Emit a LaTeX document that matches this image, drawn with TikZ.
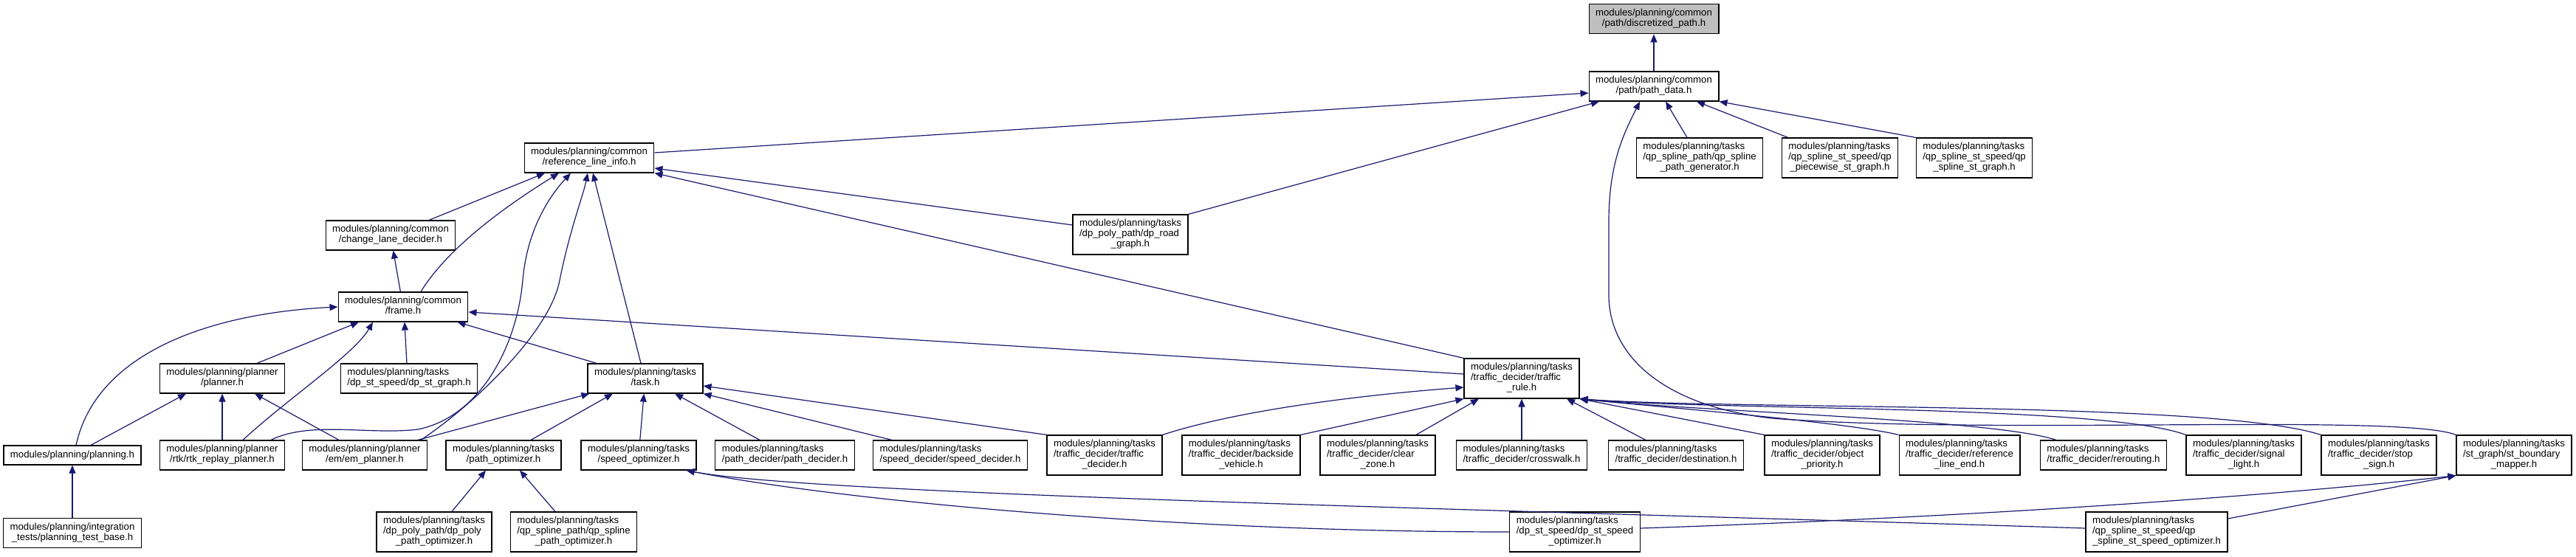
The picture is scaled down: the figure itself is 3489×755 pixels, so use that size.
\documentclass[tikz,border=0pt]{standalone}
\usepackage{fontspec}
\setmainfont{Liberation Sans}
\usepackage{xcolor}
\usetikzlibrary{arrows.meta, positioning}
\definecolor{cEdge}{RGB}{25,25,112}
\definecolor{cRoot}{RGB}{191,191,191}
\newcommand{\twoln}[2]{\begin{tabular}{@{}l@{}}#1\\\multicolumn{1}{@{}c@{}}{#2}\end{tabular}}
\newcommand{\threeln}[3]{\begin{tabular}{@{}l@{}}#1\\#2\\\multicolumn{1}{@{}c@{}}{#3}\end{tabular}}
\tikzset{
    header/.style    ={rectangle, draw=black, line width=1.2pt, fill=white, font=\fontsize{13.2}{14}\selectfont, inner xsep=9pt, inner ysep=6pt, text centered},
    rootheader/.style={header, fill=cRoot},
    incarrow/.style  ={-{Triangle[length=11pt, width=9pt]}, draw=cEdge, line width=1.2pt},
}

\begin{document}
\begin{tikzpicture}[x=1pt, y=-1pt]
    \useasboundingbox (0,0) rectangle (3489,755);
    % headers
    \node[header] (pd)   at (2240,117) {\twoln{modules/planning/common}{/path/path\_data.h}};
    \node[rootheader, above=50pt of pd] (dp) {\twoln{modules/planning/common}{/path/discretized\_path.h}};
    \node[header] (rli)  at (798,214)  {\twoln{modules/planning/common}{/reference\_line\_info.h}};
    \node[header] (qspg) at (2302,214) {\threeln{modules/planning/tasks}{/qp\_spline\_path/qp\_spline}{\_path\_generator.h}};
    \node[header] (qpsg) at (2492,214) {\threeln{modules/planning/tasks}{/qp\_spline\_st\_speed/qp}{\_piecewise\_st\_graph.h}};
    \node[header] (qssg) at (2674,214) {\threeln{modules/planning/tasks}{/qp\_spline\_st\_speed/qp}{\_spline\_st\_graph.h}};
    \node[header] (cld)  at (529,319)  {\twoln{modules/planning/common}{/change\_lane\_decider.h}};
    \node[header] (drg)  at (1531,318) {\threeln{modules/planning/tasks}{/dp\_poly\_path/dp\_road}{\_graph.h}};
    \node[header] (frame) at (546,416) {\twoln{modules/planning/common}{/frame.h}};
    \node[header] (planner) at (301,513) {\twoln{modules/planning/planner}{/planner.h}};
    \node[header] (dsg)  at (554,513)  {\twoln{modules/planning/tasks}{/dp\_st\_speed/dp\_st\_graph.h}};
    \node[header] (task) at (874,513)  {\twoln{modules/planning/tasks}{/task.h}};
    \node[header] (tr)   at (2061,513) {\threeln{modules/planning/tasks}{/traffic\_decider/traffic}{\_rule.h}};
    \node[header, minimum height=26pt] (planning) at (98,617) {modules/planning/planning.h};
    \node[header] (rtk)  at (301,617)  {\twoln{modules/planning/planner}{/rtk/rtk\_replay\_planner.h}};
    \node[header] (em)   at (494,617)  {\twoln{modules/planning/planner}{/em/em\_planner.h}};
    \node[header] (po)   at (682,617)  {\twoln{modules/planning/tasks}{/path\_optimizer.h}};
    \node[header] (so)   at (865,617)  {\twoln{modules/planning/tasks}{/speed\_optimizer.h}};
    \node[header] (pdec) at (1063,617) {\twoln{modules/planning/tasks}{/path\_decider/path\_decider.h}};
    \node[header] (sd)   at (1287,617) {\twoln{modules/planning/tasks}{/speed\_decider/speed\_decider.h}};
    \node[header] (td)   at (1496,617) {\threeln{modules/planning/tasks}{/traffic\_decider/traffic}{\_decider.h}};
    \node[header] (bv)   at (1681,617) {\threeln{modules/planning/tasks}{/traffic\_decider/backside}{\_vehicle.h}};
    \node[header] (cz)   at (1866,617) {\threeln{modules/planning/tasks}{/traffic\_decider/clear}{\_zone.h}};
    \node[header] (cw)   at (2061,617) {\twoln{modules/planning/tasks}{/traffic\_decider/crosswalk.h}};
    \node[header] (dest) at (2270,617) {\twoln{modules/planning/tasks}{/traffic\_decider/destination.h}};
    \node[header] (op)   at (2468,617) {\threeln{modules/planning/tasks}{/traffic\_decider/object}{\_priority.h}};
    \node[header] (rle)  at (2654,617) {\threeln{modules/planning/tasks}{/traffic\_decider/reference}{\_line\_end.h}};
    \node[header] (rr)   at (2849,617) {\twoln{modules/planning/tasks}{/traffic\_decider/rerouting.h}};
    \node[header] (sl)   at (3039,617) {\threeln{modules/planning/tasks}{/traffic\_decider/signal}{\_light.h}};
    \node[header] (ss)   at (3222,617) {\threeln{modules/planning/tasks}{/traffic\_decider/stop}{\_sign.h}};
    \node[header] (sbm)  at (3405,617) {\threeln{modules/planning/tasks}{/st\_graph/st\_boundary}{\_mapper.h}};
    \node[header, below=71pt of planning] (ptb) {\twoln{modules/planning/integration}{\_tests/planning\_test\_base.h}};
    \node[header] (dppo) at (588,721)  {\threeln{modules/planning/tasks}{/dp\_poly\_path/dp\_poly}{\_path\_optimizer.h}};
    \node[header] (qspo) at (777,721)  {\threeln{modules/planning/tasks}{/qp\_spline\_path/qp\_spline}{\_path\_optimizer.h}};
    \node[header] (dsso) at (2133,721) {\threeln{modules/planning/tasks}{/dp\_st\_speed/dp\_st\_speed}{\_optimizer.h}};
    \node[header] (qssso) at (2921,721) {\threeln{modules/planning/tasks}{/qp\_spline\_st\_speed/qp}{\_spline\_st\_speed\_optimizer.h}};
    % path data
    \draw[incarrow] (pd) -- (dp);
    \draw[incarrow] ([yshift=7pt]rli.east) -- ([yshift=-9pt]pd.west);
    \draw[incarrow] (drg.north east) -- ([xshift=-74pt]pd.south);
    \draw[incarrow] ([xshift=-17pt]qspg.north) -- ([xshift=16pt]pd.south);
    \draw[incarrow] ([xshift=9pt]qpsg.north west) -- ([xshift=58pt]pd.south);
    \draw[incarrow] (qssg.north west) -- (pd.south east);
    \draw[incarrow] (sbm.north west) .. controls (3250,560) and (2700,590) .. (2400,567) .. controls (2250,550) and (2179,480) .. (2179,400) -- (2179,300) .. controls (2179,220) and (2200,180) .. ([xshift=-19pt]pd.south);
    % reference line info
    \draw[incarrow] ([xshift=52pt]cld.north) -- ([xshift=-60pt]rli.south);
    \draw[incarrow] ([xshift=24pt]frame.north) .. controls (610,330) and (700,270) .. ([xshift=-41pt]rli.south);
    \draw[incarrow] ([xshift=66pt]rtk.north) .. controls (420,570) and (500,590) .. (566,582) .. controls (650,565) and (700,470) .. (708,380) .. controls (714,310) and (745,265) .. ([xshift=-25pt]rli.south);
    \draw[incarrow] ([xshift=76pt]em.north) .. controls (640,550) and (745,450) .. (758,380) .. controls (772,310) and (790,265) .. ([xshift=-2pt]rli.south);
    \draw[incarrow] ([xshift=-6pt]task.north) -- ([xshift=5pt]rli.south);
    \draw[incarrow] ([yshift=13pt]drg.west) -- ([yshift=-14pt]rli.east);
    \draw[incarrow] (tr.north west) -- (rli.south east);
    % frame
    \draw[incarrow] (frame) -- (cld);
    \draw[incarrow] ([xshift=5pt]planning.north) .. controls (130,480) and (280,425) .. (frame.west);
    \draw[incarrow] ([xshift=47pt]planner.north) -- ([xshift=-60pt]frame.south);
    \draw[incarrow] ([xshift=28pt]rtk.north) .. controls (390,540) and (480,480) .. ([xshift=-41pt]frame.south);
    \draw[incarrow] ([xshift=-3pt]dsg.north) -- ([xshift=2pt]frame.south);
    \draw[incarrow] ([xshift=-66pt]task.north) -- ([xshift=-15pt]frame.south east);
    \draw[incarrow] ([yshift=6pt]tr.west) -- ([yshift=-7pt]frame.east);
    % planner
    \draw[incarrow] ([xshift=25pt]planning.north) -- ([xshift=-49pt]planner.south);
    \draw[incarrow] (rtk) -- (planner);
    \draw[incarrow] ([xshift=-35pt]em.north) -- ([xshift=44pt]planner.south);
    \draw[incarrow] (ptb) -- (planning);
    % task
    \draw[incarrow] ([xshift=72pt]em.north) -- ([xshift=3pt]task.south west);
    \draw[incarrow] ([xshift=37pt]po.north) -- ([xshift=-44pt]task.south);
    \draw[incarrow] (so) -- (task);
    \draw[incarrow] ([xshift=-34pt]pdec.north) -- ([xshift=40pt]task.south);
    \draw[incarrow] ([xshift=-79pt]sd.north) -- (task.south east);
    \draw[incarrow] (td.north west) -- ([yshift=-10pt]task.east);
    % optimizers
    \draw[incarrow] ([xshift=24pt]dppo.north) -- ([xshift=-24pt]po.south);
    \draw[incarrow] ([xshift=-25pt]qspo.north) -- ([xshift=22pt]po.south);
    \draw[incarrow] (dsso.west) .. controls (1600,721) and (1150,680) .. ([xshift=-14pt]so.south east);
    \draw[incarrow] ([yshift=5pt]qssso.west) .. controls (2000,690) and (1100,670) .. ([xshift=-14pt]so.south east);
    \draw[incarrow] ([yshift=5pt]dsso.east) .. controls (2700,700) and (3100,670) .. (sbm.south west);
    \draw[incarrow] ([yshift=18pt]qssso.east) -- (sbm.south west);
    % traffic rule
    \draw[incarrow] (td.north east) .. controls (1680,555) and (1850,535) .. ([yshift=-12pt]tr.west);
    \draw[incarrow] (bv.north east) -- (tr.south west);
    \draw[incarrow] ([xshift=52pt]cz.north) -- ([xshift=-58pt]tr.south);
    \draw[incarrow] (cw) -- (tr);
    \draw[incarrow] ([xshift=-41pt]dest.north) -- ([xshift=61pt]tr.south);
    \draw[incarrow] (op.north west) -- (tr.south east);
    \draw[incarrow] (rle.north west) .. controls (2500,572) and (2250,552) .. (tr.south east);
    \draw[incarrow] ([xshift=-64pt]rr.north) .. controls (2700,568) and (2300,558) .. (tr.south east);
    \draw[incarrow] (sl.north west) .. controls (2850,548) and (2300,556) .. (tr.south east);
    \draw[incarrow] (ss.north west) .. controls (3000,543) and (2350,556) .. (tr.south east);
\end{tikzpicture}
\end{document}
